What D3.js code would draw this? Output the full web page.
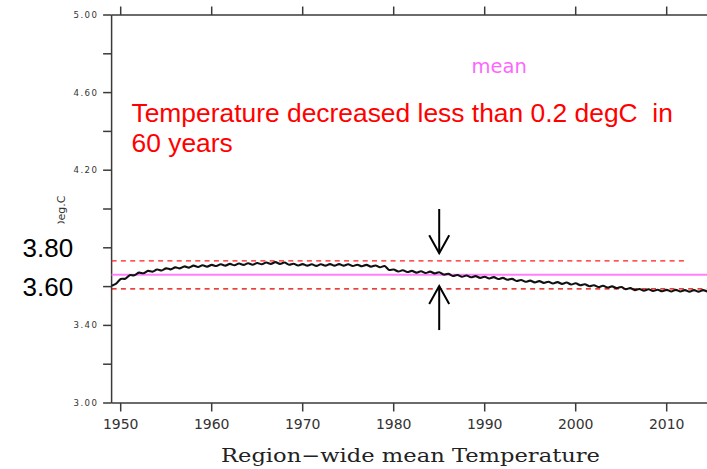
<!DOCTYPE html>
<html>
<head>
<meta charset="utf-8">
<script src="https://cdn.jsdelivr.net/npm/d3@7"></script>
<style>
  html, body { margin: 0; padding: 0; background: #fff; }
  svg { display: block; overflow: hidden; }
</style>
</head>
<body>
<svg id="chart" width="707" height="469"></svg>
<script>
// Region-wide mean temperature (deg C), smoothed, sampled every half year from 1949.0
const seriesStart = 1949;
const seriesStep = 0.5;
const meanTemp = [
  3.605, 3.615, 3.639, 3.641, 3.659, 3.658, 3.672, 3.669, 3.681, 3.677,
  3.688, 3.683, 3.694, 3.689, 3.699, 3.694, 3.704, 3.698, 3.708, 3.701,
  3.710, 3.703, 3.712, 3.706, 3.715, 3.708, 3.717, 3.710, 3.719, 3.712,
  3.720, 3.713, 3.722, 3.715, 3.724, 3.717, 3.726, 3.717, 3.724, 3.713,
  3.718, 3.709, 3.716, 3.708, 3.715, 3.707, 3.715, 3.708, 3.716, 3.708,
  3.716, 3.708, 3.715, 3.706, 3.713, 3.705, 3.712, 3.703, 3.709, 3.700,
  3.706, 3.686, 3.688, 3.678, 3.684, 3.675, 3.681, 3.672, 3.679, 3.670,
  3.677, 3.668, 3.674, 3.662, 3.666, 3.655, 3.660, 3.651, 3.657, 3.648,
  3.654, 3.645, 3.651, 3.642, 3.649, 3.639, 3.645, 3.635, 3.640, 3.629,
  3.634, 3.625, 3.631, 3.622, 3.628, 3.619, 3.625, 3.616, 3.623, 3.614,
  3.621, 3.611, 3.617, 3.607, 3.612, 3.602, 3.607, 3.598, 3.604, 3.595,
  3.601, 3.592, 3.598, 3.587, 3.592, 3.582, 3.588, 3.579, 3.586, 3.577,
  3.584, 3.576, 3.583, 3.575, 3.583, 3.575, 3.582, 3.574, 3.582, 3.574,
  3.582, 3.575, 3.583
];

// Reference levels
const meanLevel = 3.661;
const upperBound = 3.733;
const upperBoundEnd = 2012.2;
const lowerBound = 3.588;

// Axes
const xDomain = [1949, 2015];
const yDomain = [3.0, 5.0];
const xTicks = [1950, 1960, 1970, 1980, 1990, 2000, 2010];
const yMajorTicks = [3.0, 3.4, 3.8, 4.2, 4.6, 5.0];
const yMinorTicks = [3.2, 3.6, 4.0, 4.4, 4.8];
const yTickLabels = [
  { v: 5.0, t: "5.00" }, { v: 4.6, t: "4.60" }, { v: 4.2, t: "4.20" },
  { v: 3.4, t: "3.40" }, { v: 3.0, t: "3.00" }
];
const bigLabels = [{ v: 3.8, t: "3.80" }, { v: 3.6, t: "3.60" }];

// Annotation arrows around the change
const arrowYear = 1985;
const downArrow = [4.00, 3.772];
const upArrow = [3.376, 3.603];

const titleLines = ["Temperature decreased less than 0.2 degC  in", "60 years"];
const xTitle = "Region\u2212wide mean Temperature";
const yTitle = "Deg.C";
const meanLabel = "mean";

const svg = d3.select("#chart");
const plotLeft = 111.6, plotTop = 15, plotBottom = 403;
const x = d3.scaleLinear().domain(xDomain).range([plotLeft, plotLeft + 9.1 * (xDomain[1] - xDomain[0])]);
const y = d3.scaleLinear().domain(yDomain).range([plotBottom, plotTop]);
const plotRight = x(xDomain[1]);

const axisColor = "#3a3a3a";
const tickLen = 8.5;

// Frame lines
const frame = svg.append("g");
function seg(x1, y1, x2, y2) {
  frame.append("line")
    .attr("x1", x1).attr("y1", y1).attr("x2", x2).attr("y2", y2)
    .attr("stroke", axisColor).attr("stroke-width", 1.5);
}
seg(plotLeft, plotTop, plotLeft, plotBottom);
seg(plotLeft, plotTop, plotRight, plotTop);
seg(plotLeft, plotBottom, plotRight, plotBottom);

// Tick marks, pointing outward
yMajorTicks.concat(yMinorTicks).forEach(v => seg(plotLeft - tickLen, y(v), plotLeft, y(v)));
xTicks.forEach(v => {
  seg(x(v), plotBottom, x(v), plotBottom + tickLen);
  seg(x(v), plotTop - tickLen, x(v), plotTop);
});

// x tick labels
svg.append("g").selectAll("text").data(xTicks).join("text")
  .attr("x", d => x(d)).attr("y", 429.3)
  .attr("text-anchor", "middle")
  .attr("font-family", "DejaVu Sans").attr("font-size", 14).attr("fill", "#333")
  .text(d => d3.format("d")(d));

// small y labels
svg.append("g").selectAll("text").data(yTickLabels).join("text")
  .attr("x", 97).attr("y", d => y(d.v) + 3)
  .attr("text-anchor", "end")
  .attr("font-family", "DejaVu Sans").attr("font-size", 8.6).attr("fill", "#333")
  .attr("textLength", 23.5).attr("lengthAdjust", "spacing")
  .text(d => d.t);

// y title (lower part cut off)
svg.append("clipPath").attr("id", "ytclip").append("rect")
  .attr("x", 0).attr("y", 0).attr("width", 100).attr("height", 223.5);
svg.append("g").attr("clip-path", "url(#ytclip)")
  .append("text")
  .attr("transform", "translate(64.5,229) rotate(-90)")
  .attr("font-family", "DejaVu Sans").attr("font-size", 11).attr("fill", "#333")
  .text(yTitle);

// big labels
svg.append("g").selectAll("text").data(bigLabels).join("text")
  .attr("x", 22.5).attr("y", d => y(d.v) + 9)
  .attr("font-family", "Liberation Sans").attr("font-size", 26).attr("fill", "#000")
  .text(d => d.t);

// reference lines
svg.append("line")
  .attr("x1", plotLeft).attr("x2", plotRight).attr("y1", y(meanLevel)).attr("y2", y(meanLevel))
  .attr("stroke", "#ff80ff").attr("stroke-width", 2);
svg.append("line")
  .attr("x1", plotLeft).attr("x2", x(upperBoundEnd)).attr("y1", y(upperBound)).attr("y2", y(upperBound))
  .attr("stroke", "#ff1a1a").attr("stroke-width", 1.3).attr("stroke-dasharray", "5,4.3");
svg.append("line")
  .attr("x1", plotLeft).attr("x2", plotRight).attr("y1", y(lowerBound)).attr("y2", y(lowerBound))
  .attr("stroke", "#e00000").attr("stroke-width", 1.3).attr("stroke-dasharray", "5,4.3");

// series line
const line = d3.line()
  .x((d, i) => x(seriesStart + i * seriesStep))
  .y(d => y(d))
  .curve(d3.curveCatmullRom.alpha(0.5));
svg.append("path").datum(meanTemp)
  .attr("d", line).attr("fill", "none")
  .attr("stroke", "#111").attr("stroke-width", 2.1);

// arrows
function arrow(from, to) {
  const ax = x(arrowYear), y0 = y(from), y1 = y(to);
  const dir = y1 > y0 ? -1 : 1;
  const g = svg.append("g").attr("stroke", "#000").attr("stroke-width", 2).attr("fill", "none");
  g.append("line").attr("x1", ax).attr("x2", ax).attr("y1", y0).attr("y2", y1);
  g.append("polyline").attr("points", `${ax - 10},${y1 + dir * 18} ${ax},${y1} ${ax + 10},${y1 + dir * 18}`);
}
arrow(downArrow[0], downArrow[1]);
arrow(upArrow[0], upArrow[1]);

// title
const tt = svg.append("text")
  .attr("font-family", "Liberation Sans").attr("font-size", 26.4).attr("fill", "#ff0000")
  .style("white-space", "pre");
titleLines.forEach((t, i) => {
  tt.append("tspan").attr("x", 131.5).attr("y", 121.5 + i * 30).text(t);
});

// mean label
svg.append("text")
  .attr("x", 471.5).attr("y", 73.3)
  .attr("font-family", "DejaVu Sans").attr("font-size", 19.5).attr("fill", "#ff66ff")
  .text(meanLabel);

// x title
svg.append("text")
  .attr("x", 221).attr("y", 462.3)
  .attr("font-family", "DejaVu Serif").attr("font-size", 19).attr("fill", "#222")
  .attr("textLength", 379).attr("lengthAdjust", "spacingAndGlyphs")
  .text(xTitle);
</script>
</body>
</html>
